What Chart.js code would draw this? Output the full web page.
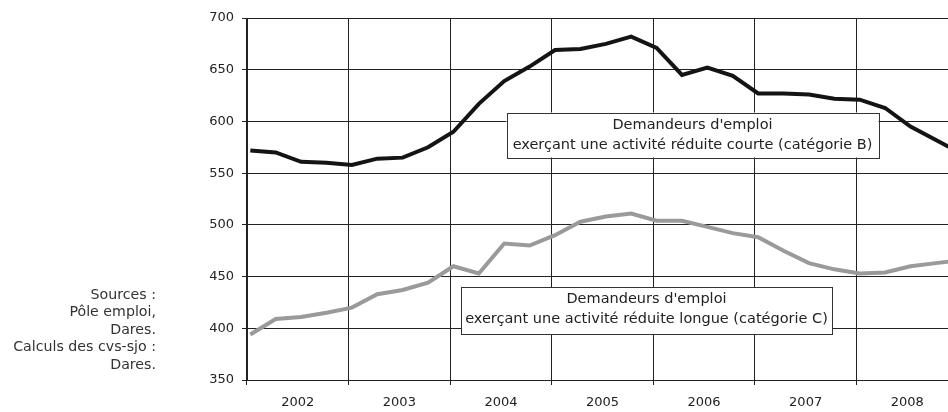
<!DOCTYPE html>
<html><head><meta charset="utf-8">
<script src="https://cdn.jsdelivr.net/npm/chart.js@4/dist/chart.umd.min.js"></script>
<style>
html,body{margin:0;padding:0;background:#fff;overflow:hidden;width:948px;height:412px;}
#wrap{position:absolute;left:0;top:0;width:970px;height:412px;}
#src{position:absolute;right:calc(948px - 156px);top:285.5px;text-align:right;font-family:"DejaVu Sans";font-size:14.2px;line-height:17.5px;color:#333;white-space:nowrap;}
</style></head>
<body>
<div id="wrap"><canvas id="c" width="970" height="412"></canvas></div>
<div id="src">Sources :<br>Pôle emploi,<br>Dares.<br>Calculs des cvs-sjo :<br>Dares.</div>
<script>
const years = ['2002','2003','2004','2005','2006','2007','2008'];
// quarterly series, thousands (Q1 2002 ... Q1 2009)
const catB = [572,570,561,560,558,564,565,575,590,617,639,653,669,670,675,682,671,645,652,644,627,627,626,622,621,613,595,582,569];
const catC = [394,409,411,415,420,433,437,444,460,453,482,480,490,503,508,511,504,504,498,492,488,475,463,457,453,454,460,463,466];
const yTicks = [350,400,450,500,550,600,650,700];
const labelB = ["Demandeurs d'emploi", "exerçant une activité réduite courte (catégorie B)"];
const labelC = ["Demandeurs d'emploi", "exerçant une activité réduite longue (catégorie C)"];

const pts = arr => arr.map((v,i)=>({x:i+0.13,y:v}));
const FONT = 'DejaVu Sans';

const boxes = {
  id:'boxes',
  afterDatasetsDraw(chart){
    const ctx = chart.ctx, a = chart.chartArea;
    const draw = (cx, cy, w, h, lines, o1, o2) => {
      ctx.save();
      ctx.fillStyle='#fff';
      ctx.fillRect(cx-w/2, cy-h/2, w, h);
      ctx.strokeStyle='#333'; ctx.lineWidth=1;
      ctx.strokeRect(Math.round(cx-w/2)+0.5, Math.round(cy-h/2)+0.5, w, h);
      ctx.fillStyle='#222'; ctx.font='14.5px "'+FONT+'"';
      ctx.textAlign='center'; ctx.textBaseline='middle';
      ctx.fillText(lines[0], cx, cy+o1);
      ctx.fillText(lines[1], cx, cy+o2);
      ctx.restore();
    };
    draw(a.left+445.5, a.top+117, 372, 45, labelB, -10, 10.5);
    draw(a.left+399.5, a.top+292.5, 371, 47, labelC, -11.2, 8.5);
  }
};

new Chart(document.getElementById('c'), {
  type:'line',
  data:{
    labels: years,
    datasets:[
      {data:pts(catB), xAxisID:'xq', borderColor:'#141414', borderWidth:4, pointRadius:0, tension:0, fill:false},
      {data:pts(catC), xAxisID:'xq', borderColor:'#9a9a9a', borderWidth:4, pointRadius:0, tension:0, fill:false}
    ]
  },
  plugins:[boxes],
  options:{
    responsive:false, animation:false, devicePixelRatio:1,
    layout:{padding:{left:0,top:18,right:12,bottom:0}},
    plugins:{legend:{display:false}, tooltip:{enabled:false}},
    scales:{
      x:{type:'category', offset:true,
         grid:{offset:true, color:'#222', lineWidth:1, tickLength:5, drawTicks:true},
         border:{color:'#222', width:1},
         ticks:{color:'#222', font:{family:FONT,size:13}, padding:10, maxRotation:0},
         afterFit(s){ s.height = 32; }
      },
      xq:{type:'linear', display:false, min:0, max:28},
      y:{min:350, max:700,
         afterBuildTicks(s){ s.ticks = yTicks.map(v=>({value:v})); },
         grid:{color:'#222', lineWidth:1, tickLength:5},
         border:{color:'#222', width:1},
         ticks:{color:'#222', font:{family:FONT,size:13}, padding:8},
         afterFit(s){ s.width = 247; }
      }
    }
  }
});
</script>
</body></html>
